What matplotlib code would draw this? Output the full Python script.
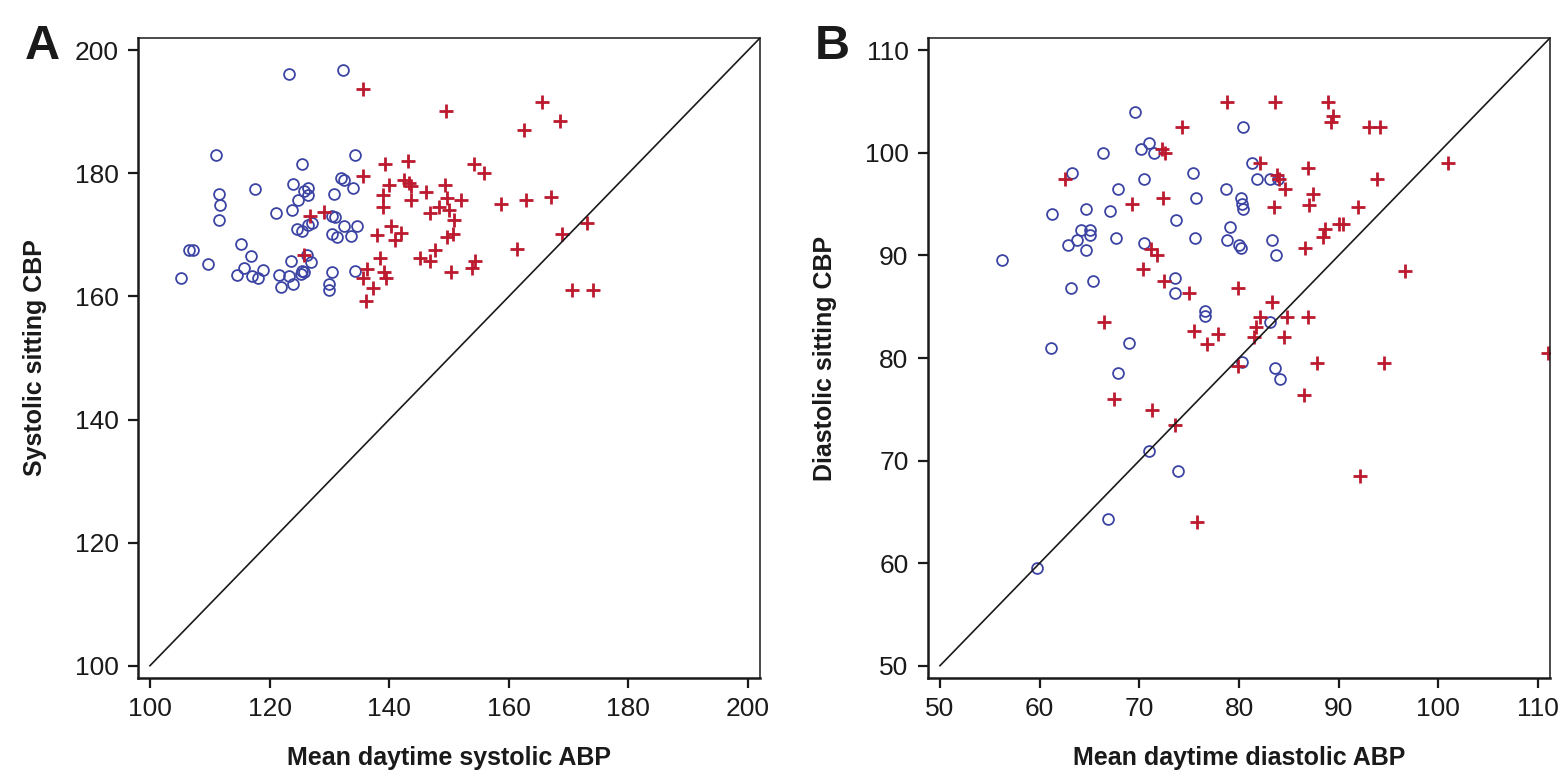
import numpy as np
import matplotlib.pyplot as plt

plt.rcParams['font.family'] = ['Liberation Sans', 'DejaVu Sans']

# Panel A: systolic (open circles = blue group, crosses = red group)
sys_circ_x = [123.2, 132.3, 111.1, 134.3, 125.5, 123.9, 117.5, 126.4, 125.7, 126.5,
              132.0, 132.5, 134.0, 111.6, 111.7, 111.6, 130.8, 124.8, 121.1, 123.7,
              130.5, 130.9, 124.6, 125.4, 126.4, 127.1, 132.4, 134.7, 130.5, 131.2,
              133.6, 115.2, 106.5, 107.2, 116.9, 126.3, 127.0, 123.6, 109.7, 115.8,
              118.9, 114.5, 117.1, 118.0, 121.6, 123.2, 125.3, 125.7, 125.5, 130.4,
              134.2, 105.2, 121.9, 123.9, 129.9, 129.9]
sys_circ_y = [196.2, 196.8, 183.0, 183.0, 181.5, 178.2, 177.5, 177.7, 177.1, 176.5,
              179.3, 179.0, 177.6, 176.6, 174.9, 172.5, 176.6, 175.7, 173.5, 174.0,
              173.1, 172.9, 171.0, 170.6, 171.6, 172.0, 171.5, 171.5, 170.1, 169.6,
              169.8, 168.6, 167.6, 167.6, 166.6, 166.7, 165.6, 165.7, 165.3, 164.6,
              164.3, 163.5, 163.3, 163.0, 163.5, 163.4, 163.6, 163.9, 164.1, 164.0,
              164.1, 163.0, 161.5, 162.0, 162.0, 161.1]
sys_plus_x = [135.6, 139.3, 135.6, 140.0, 139.0, 139.0, 126.8, 129.1, 140.3, 138.0,
              140.9, 125.8, 138.4, 136.3, 135.7, 139.1, 139.4, 137.3, 136.1, 149.5,
              165.6, 168.5, 162.5, 143.1, 154.1, 155.9, 142.5, 143.3, 143.6, 149.3,
              146.1, 143.7, 149.7, 150.0, 152.0, 148.3, 146.8, 158.7, 162.8, 167.1,
              150.8, 141.9, 149.7, 150.7, 147.6, 173.0, 168.9, 161.3, 145.1, 146.9,
              154.4, 153.9, 150.4, 170.5, 174.0]
sys_plus_y = [193.7, 181.5, 179.6, 178.1, 176.5, 174.6, 173.1, 173.8, 171.4, 170.0,
              169.2, 166.7, 166.2, 164.5, 163.0, 163.9, 163.0, 161.4, 159.2, 190.1,
              191.6, 188.5, 187.0, 182.0, 181.5, 180.0, 178.9, 178.4, 178.0, 178.1,
              177.0, 175.6, 176.0, 174.1, 175.6, 174.6, 173.5, 175.0, 175.6, 176.1,
              172.4, 170.3, 169.7, 170.2, 167.6, 172.0, 170.2, 167.7, 166.2, 165.7,
              165.7, 164.6, 164.0, 161.1, 161.1]

# Panel B: diastolic
dia_circ_x = [69.6, 66.4, 70.2, 71.0, 71.5, 63.2, 70.5, 67.9, 61.2, 64.7,
              67.1, 73.7, 64.1, 65.1, 65.1, 63.7, 62.8, 64.7, 67.7, 70.5,
              56.2, 65.4, 63.1, 73.6, 73.6, 80.4, 81.3, 81.8, 83.1, 83.9,
              75.4, 78.7, 75.7, 80.2, 80.3, 80.4, 79.1, 75.6, 78.8, 80.0,
              80.2, 83.3, 83.7, 76.6, 76.6, 83.1, 61.1, 69.0, 67.9, 80.3,
              83.6, 84.1, 71.0, 73.9, 66.9, 59.7]
dia_circ_y = [104.0, 100.0, 100.4, 101.0, 100.0, 98.0, 97.5, 96.5, 94.0, 94.5,
              94.3, 93.5, 92.5, 92.5, 92.0, 91.5, 91.0, 90.5, 91.7, 91.2,
              89.6, 87.5, 86.8, 87.8, 86.3, 102.5, 99.0, 97.5, 97.5, 97.5,
              98.0, 96.5, 95.6, 95.6, 95.0, 94.5, 92.8, 91.7, 91.5, 91.0,
              90.7, 91.5, 90.0, 84.6, 84.1, 83.5, 81.0, 81.5, 78.5, 79.6,
              79.0, 78.0, 70.9, 69.0, 64.3, 59.5]
dia_plus_x = [62.5, 72.3, 72.6, 69.3, 72.4, 71.2, 71.8, 70.4, 72.5, 66.5,
              78.8, 83.6, 88.9, 89.4, 89.2, 93.0, 94.1, 74.3, 82.1, 83.8,
              84.0, 86.9, 93.8, 84.6, 87.4, 83.5, 87.0, 91.9, 88.6, 88.4,
              90.0, 90.4, 86.6, 96.7, 75.0, 79.9, 83.3, 82.1, 84.8, 86.9,
              81.7, 75.5, 77.9, 84.5, 76.8, 81.5, 79.9, 67.5, 71.3, 73.6,
              75.8, 101.0, 94.5, 92.1, 87.8, 86.5, 111.0]
dia_plus_y = [97.5, 100.4, 100.0, 95.0, 95.6, 90.6, 90.0, 88.7, 87.5, 83.5,
              105.0, 105.0, 105.0, 103.6, 103.0, 102.5, 102.5, 102.5, 99.0, 97.8,
              97.5, 98.5, 97.5, 96.5, 96.0, 94.7, 94.9, 94.7, 92.6, 91.8,
              93.1, 93.1, 90.7, 88.5, 86.3, 86.8, 85.5, 84.0, 84.0, 84.0,
              83.0, 82.6, 82.3, 82.0, 81.4, 82.0, 79.2, 76.0, 74.9, 73.5,
              64.0, 99.0, 79.5, 68.5, 79.5, 76.4, 80.5]

blue = '#3c45a3'
red = '#bc1a2e'
ink = '#1a1a1a'

fig = plt.figure(figsize=(15.64, 7.84), dpi=100)
axA = fig.add_axes([138 / 1564, 106 / 784, 622 / 1564, 640 / 784])
axB = fig.add_axes([928 / 1564, 106 / 784, 622 / 1564, 640 / 784])


def draw(ax, cx, cy, px, py, lo, hi, step, xlabel, ylabel, letter):
    ax.plot(cx, cy, 'o', ms=7.8, mfc='none', mec=blue, mew=1.3)
    ax.plot(px, py, '+', ms=9.5, color=red, mew=2.0)
    ax.plot([lo, 2 * hi], [lo, 2 * hi], color=ink, lw=1.2)
    pad = (hi - lo) * 0.02
    ax.set_xlim(lo - pad, hi + pad)
    ax.set_ylim(lo - pad, hi + pad)
    ticks = np.arange(lo, hi + step / 2, step)
    ax.set_xticks(ticks)
    ax.set_yticks(ticks)
    ax.tick_params(direction='out', length=7, width=1.6, labelsize=19,
                   pad=7, colors=ink)
    for s in ['left', 'bottom']:
        ax.spines[s].set_linewidth(1.8)
    for s in ['top', 'right']:
        ax.spines[s].set_linewidth(1.1)
    for s in ax.spines.values():
        s.set_color(ink)
    ax.set_xlabel(xlabel, fontsize=18, fontweight='bold', labelpad=18, color=ink)
    ax.set_ylabel(ylabel, fontsize=18, fontweight='bold', labelpad=20, color=ink)
    ax.text(-0.182, 1.022, letter, transform=ax.transAxes, fontsize=35,
            fontweight='bold', ha='left', va='top', color=ink)


draw(axA, sys_circ_x, sys_circ_y, sys_plus_x, sys_plus_y, 100, 200, 20,
     'Mean daytime systolic ABP', 'Systolic sitting CBP', 'A')
draw(axB, dia_circ_x, dia_circ_y, dia_plus_x, dia_plus_y, 50, 110, 10,
     'Mean daytime diastolic ABP', 'Diastolic sitting CBP', 'B')

fig.savefig('out.png', dpi=100)
